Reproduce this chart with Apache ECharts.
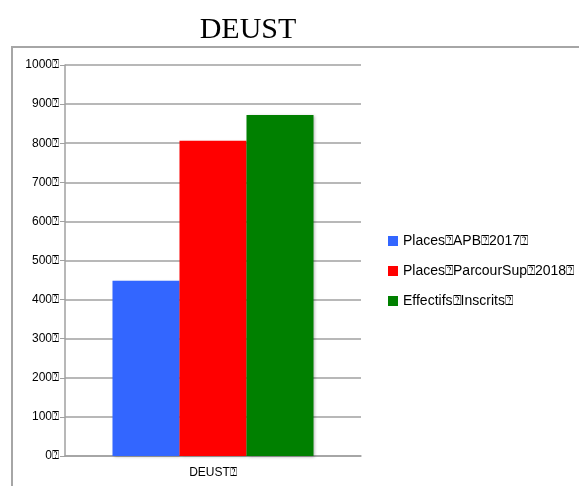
<!DOCTYPE html>
<html>
<head>
<meta charset="utf-8">
<script src="https://cdn.jsdelivr.net/npm/echarts@6/dist/echarts.min.js"></script>
<style>
html,body{margin:0;padding:0;background:#fff;}
#chart{width:579px;height:486px;}
</style>
</head>
<body>
<div id="chart"></div>
<script>
var categories = ['DEUST\u2370'];
var seriesNames = ['Places\u2370APB\u23702017\u2370', 'Places\u2370ParcourSup\u23702018\u2370', 'Effectifs\u2370Inscrits\u2370'];
var apb2017 = [448];
var parcoursup2018 = [806];
var inscrits = [872];
var colors = ['#3366ff', '#ff0000', '#008000'];

var myChart = echarts.init(document.getElementById('chart'));
var barStyle = {
    shadowBlur: 3,
    shadowOffsetX: 1,
    shadowOffsetY: 1,
    shadowColor: 'rgba(0,0,0,0.3)'
};
var option = {
    backgroundColor: '#fff',
    color: colors,
    animation: false,
    title: {
        text: 'DEUST',
        left: 243,
        top: 10,
        textAlign: 'center',
        textStyle: {
            fontFamily: 'Liberation Serif',
            fontWeight: 'normal',
            fontSize: 30,
            color: '#000'
        }
    },
    graphic: [
        {
            type: 'polyline',
            shape: { points: [[12, 486], [12, 47], [579, 47]] },
            style: { stroke: '#a6a6a6', lineWidth: 2, fill: null }
        }
    ],
    legend: {
        orient: 'vertical',
        left: 383,
        top: 229,
        itemWidth: 10,
        itemHeight: 10,
        itemGap: 16,
        icon: 'rect',
        textStyle: { fontFamily: 'Liberation Sans', fontSize: 14, color: '#000' },
        data: seriesNames
    },
    grid: { left: 65, right: 218, top: 65, bottom: 30 },
    xAxis: {
        type: 'category',
        data: categories,
        axisLine: { lineStyle: { color: '#a0a0a0', width: 1.5 } },
        axisTick: { show: false },
        axisLabel: { fontFamily: 'Liberation Sans', fontSize: 12, color: '#000', margin: 11 }
    },
    yAxis: {
        type: 'value',
        min: 0,
        max: 1000,
        interval: 100,
        axisLine: { show: true, lineStyle: { color: '#a0a0a0', width: 1.5 } },
        axisTick: { show: true, length: 5, lineStyle: { color: '#a0a0a0' } },
        splitLine: { lineStyle: { color: '#a0a0a0', width: 1.5 } },
        axisLabel: {
            fontFamily: 'Liberation Sans', fontSize: 12, color: '#000', margin: 6,
            formatter: function (v) { return v + '\u2370'; }
        }
    },
    series: [
        { name: seriesNames[0], type: 'bar', data: apb2017, barWidth: 67, barGap: '0%', itemStyle: barStyle },
        { name: seriesNames[1], type: 'bar', data: parcoursup2018, barWidth: 67, barGap: '0%', itemStyle: barStyle },
        { name: seriesNames[2], type: 'bar', data: inscrits, barWidth: 67, barGap: '0%', itemStyle: barStyle }
    ]
};
myChart.setOption(option);
</script>
</body>
</html>
